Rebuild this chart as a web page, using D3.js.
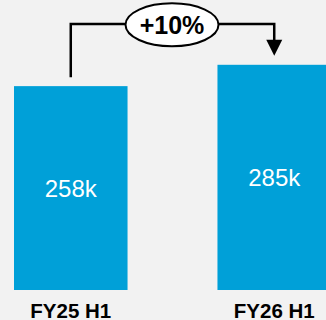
<!DOCTYPE html>
<html>
<head>
<meta charset="utf-8">
<script src="https://cdn.jsdelivr.net/npm/d3@7/dist/d3.min.js"></script>
<style>
  html, body { margin: 0; padding: 0; background: #f2f2f2; overflow: hidden; }
  svg { display: block; }
</style>
</head>
<body>
<script>
// Half-year totals (thousands)
const categories = ["FY25 H1", "FY26 H1"];
const values = [258, 285];
const valueLabels = ["258k", "285k"];

const W = 326, H = 320;
const barColor = "#00a0d8";
const font = "'Liberation Sans', Arial, Helvetica, sans-serif";

const svg = d3.select("body").append("svg")
  .attr("width", W).attr("height", H);

svg.append("rect").attr("width", W).attr("height", H).attr("fill", "#f2f2f2");

const x = d3.scaleBand()
  .domain(categories)
  .range([14, 331])
  .paddingInner(0.442)
  .paddingOuter(0);

const y = d3.scaleLinear().domain([0, 367]).range([290, 0]);

const data = categories.map((c, i) => ({ cat: c, value: values[i], label: valueLabels[i] }));

// Bars
svg.selectAll("rect.bar").data(data).enter().append("rect")
  .attr("class", "bar")
  .attr("x", d => x(d.cat))
  .attr("y", d => y(d.value))
  .attr("width", x.bandwidth())
  .attr("height", d => y(0) - y(d.value))
  .attr("fill", barColor);

// Value labels centred inside bars
svg.selectAll("text.val").data(data).enter().append("text")
  .attr("class", "val")
  .attr("x", d => x(d.cat) + x.bandwidth() / 2)
  .attr("y", d => (y(d.value) + y(0)) / 2 + 9)
  .attr("text-anchor", "middle")
  .attr("fill", "#ffffff")
  .style("font-family", font)
  .style("font-size", "24px")
  .text(d => d.label);

// Category axis labels
const xAxis = d3.axisBottom(x).tickSize(0).tickPadding(0);
const gx = svg.append("g").attr("transform", "translate(0,300)").call(xAxis);
gx.select(".domain").remove();
gx.selectAll("text")
  .attr("dy", null)
  .attr("y", 17.5)
  .attr("fill", "#000")
  .style("font-family", font)
  .style("font-size", "20.5px")
  .style("font-weight", "bold");

// Growth connector with arrow
const cx0 = x(categories[0]) + x.bandwidth() / 2;
const cx1 = x(categories[1]) + x.bandwidth() / 2;
const gap = 9;
const topY = 24;
const headH = 16, headW = 16;

svg.append("path")
  .attr("d", `M${cx0},${y(values[0]) - gap} V${topY} H${cx1} V${y(values[1]) - gap - headH + 1}`)
  .attr("fill", "none")
  .attr("stroke", "#000")
  .attr("stroke-width", 2.5);

const tipY = y(values[1]) - gap;
svg.append("path")
  .attr("d", `M${cx1 - headW / 2},${tipY - headH} L${cx1 + headW / 2},${tipY - headH} L${cx1},${tipY} Z`)
  .attr("fill", "#000");

const midX = 172;
svg.append("ellipse")
  .attr("cx", midX).attr("cy", 24.8)
  .attr("rx", 46.5).attr("ry", 21.5)
  .attr("fill", "#ffffff")
  .attr("stroke", "#000")
  .attr("stroke-width", 2);

const growth = Math.round((values[1] / values[0] - 1) * 100);
svg.append("text")
  .attr("x", midX).attr("y", 34)
  .attr("text-anchor", "middle")
  .attr("fill", "#000")
  .style("font-family", font)
  .style("font-size", "25px")
  .style("font-weight", "bold")
  .text(`+${growth}%`);
</script>
</body>
</html>
